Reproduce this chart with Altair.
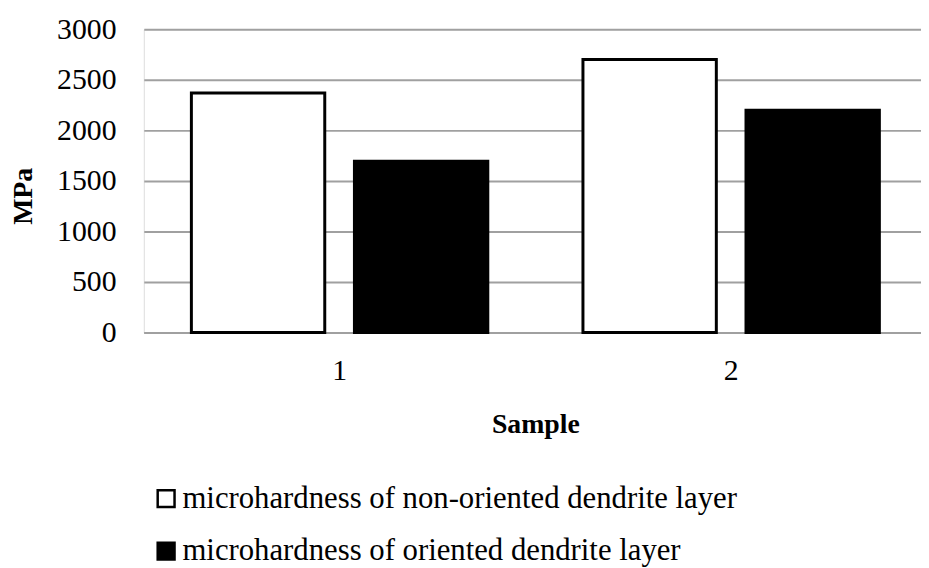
import altair as alt
import pandas as pd

samples = ["1", "2"]
series_names = [
    "microhardness of non-oriented dendrite layer",
    "microhardness of oriented dendrite layer",
]
non_oriented = [2370, 2700]
oriented = [1695, 2200]
y_ticks = [0, 500, 1000, 1500, 2000, 2500, 3000]

rows = []
for i, s in enumerate(samples):
    rows.append({"Sample": s, "series": series_names[0], "MPa": non_oriented[i]})
    rows.append({"Sample": s, "series": series_names[1], "MPa": oriented[i]})
df = pd.DataFrame(rows)

FONT = "Liberation Serif, Times New Roman, serif"

chart = (
    alt.Chart(df)
    .mark_bar(stroke="black", strokeWidth=3, strokeJoin="miter")
    .encode(
        x=alt.X(
            "Sample:N",
            sort=samples,
            scale=alt.Scale(range=[0, 790], paddingInner=0.243, paddingOuter=0.1215),
            axis=alt.Axis(
                title="Sample",
                labelAngle=0,
                labelFont=FONT,
                labelFontSize=30,
                labelColor="black",
                labelPadding=23,
                ticks=False,
                domain=True,
                domainColor="#a0a0a0",
                domainWidth=2,
                titleFont=FONT,
                titleFontSize=28,
                titleFontWeight="bold",
                titleColor="black",
                titleX=395,
                titleY=101,
                titleBaseline="alphabetic",
                titleAlign="center",
            ),
        ),
        xOffset=alt.XOffset(
            "series:N",
            sort=series_names,
            scale=alt.Scale(paddingInner=0.182, paddingOuter=0),
        ),
        y=alt.Y(
            "MPa:Q",
            scale=alt.Scale(domain=[0, 3000], nice=False),
            axis=alt.Axis(
                title="MPa",
                values=y_ticks,
                format="d",
                labelFont=FONT,
                labelFontSize=30,
                labelColor="black",
                labelPadding=28,
                ticks=False,
                domain=False,
                grid=True,
                gridColor="#a0a0a0",
                gridWidth=2,
                titleFont=FONT,
                titleFontSize=28,
                titleFontWeight="bold",
                titleColor="black",
                titleAngle=-90,
                titleX=-121,
                titleY=168,
                titleAlign="center",
                titleBaseline="middle",
            ),
        ),
        fill=alt.Fill(
            "series:N",
            sort=series_names,
            scale=alt.Scale(domain=series_names, range=["white", "black"]),
            legend=alt.Legend(
                title=None,
                orient="none",
                legendX=7,
                legendY=458,
                direction="vertical",
                symbolType="square",
                symbolSize=289,
                symbolStrokeColor="black",
                symbolStrokeWidth=2.5,
                labelFont=FONT,
                labelFontSize=31,
                labelColor="black",
                labelOffset=1,
                labelLimit=900,
                rowPadding=21,
            ),
        ),
    )
    .properties(
        width=784,
        height=306,
        autosize="none",
        padding={"left": 137, "top": 19, "right": 0, "bottom": 235},
    )
    .configure_view(stroke=None)
    .configure(background="white")
)

chart.save("out.html", embed_options={"renderer": "svg", "actions": False})
